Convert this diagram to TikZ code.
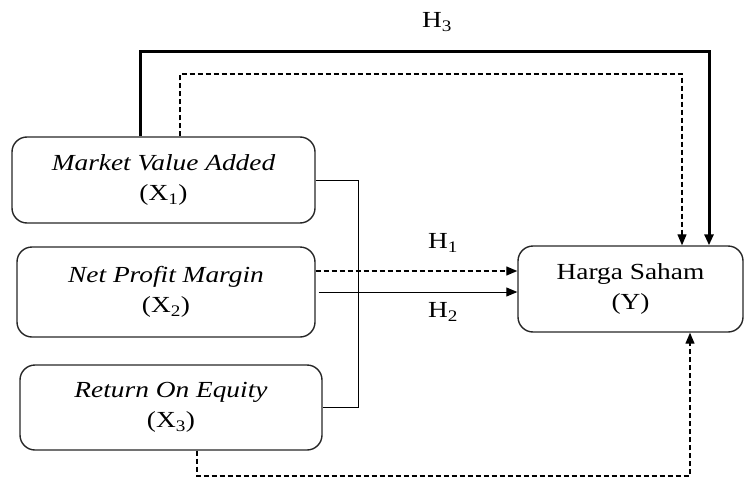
\documentclass[tikz,border=0pt]{standalone}
\usepackage{fontspec}
\setmainfont{Liberation Serif}[FakeStretch=1.19]
\usetikzlibrary{arrows.meta}
\begin{document}
\begin{tikzpicture}[x=1pt,y=-1pt,
  varbox/.style={draw=black!85, line width=1.4pt, rounded corners=15pt,
    align=center, inner sep=0pt, font=\fontsize{23}{30}\selectfont},
  lbl/.style={font=\fontsize{23}{28}\selectfont, inner sep=0pt},
  tip/.style={-{Triangle[length=11pt,width=9pt]}},
  thinline/.style={line width=0.9pt},
  dashline/.style={line width=1.3pt, dash pattern=on 5pt off 3pt},
  boldline/.style={line width=3pt}]
\useasboundingbox (0,0) rectangle (744,479);

% variable boxes
\node[varbox, minimum width=303pt, minimum height=86pt] (x1) at (163.5,180)
  {\itshape Market Value Added\\(X\textsubscript{1})};
\node[varbox, minimum width=298pt, minimum height=90pt] (x2) at (166,292)
  {\itshape Net Profit Margin\\(X\textsubscript{2})};
\node[varbox, minimum width=302pt, minimum height=85pt] (x3) at (171,407.5)
  {\itshape Return On Equity\\(X\textsubscript{3})};
\node[varbox, minimum width=225pt, minimum height=86pt] (y) at (630.5,289)
  {Harga Saham\\(Y)};

% hypothesis labels
\node[lbl] (h3) at (437,22) {H\textsubscript{3}};
\node[lbl] (h1) at (443,243) {H\textsubscript{1}};
\node[lbl] (h2) at (443,312) {H\textsubscript{2}};

% routing points
\coordinate (b1) at (140,51);
\coordinate (b2) at (709,51);
\coordinate (d1) at (180,74);
\coordinate (d2) at (682,74);
\coordinate (jn) at (358,180);
\coordinate (npd) at (0,271);
\coordinate (r1) at (197,476);
\coordinate (r2) at (690,476);

% joint path of X1, X2, X3 to Y
\draw[boldline, tip] (x1.north -| b1) -- (b1) -- (b2) -- (y.north -| b2);
% X1 and X3 bracket
\draw[thinline] (x1.east) -- (jn) -- (jn |- x3.east) -- (x3.east);
% X1 to Y (dashed)
\draw[dashline, tip] (x1.north -| d1) -- (d1) -- (d2) -- (y.north -| d2);
% X2 to Y
\draw[dashline, tip] (x2.east |- npd) -- (y.west |- npd);
\draw[thinline, tip] ([xshift=3pt]x2.east) -- (y.west |- x2.east);
% X3 to Y (dashed)
\draw[dashline, tip] (x3.south -| r1) -- (r1) -- (r2) -- (y.south -| r2);
\end{tikzpicture}
\end{document}
